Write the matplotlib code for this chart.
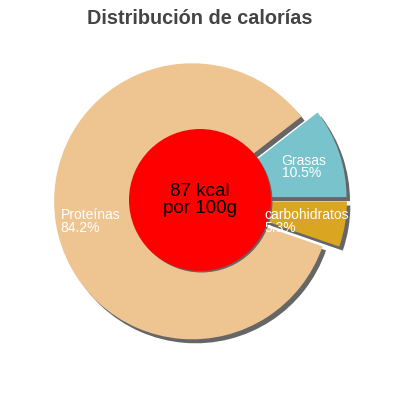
import matplotlib
matplotlib.use("Agg")
import matplotlib.pyplot as plt
from matplotlib.patches import Wedge, Circle

# slices, counter-clockwise from 3 o'clock
labels = ["Grasas", "Proteínas", "carbohidratos"]
values = [10.5, 84.2, 5.3]
colors = ["#79c4cc", "#eec591", "#daa520"]
explode = [0.065, 0.058, 0.065]

center_text = "87 kcal\npor 100g"
title = "Distribución de calorías"

# label anchors (left / vertical middle), in pie-radius units
label_pos = [(0.592, 0.239), (-1.009, -0.156), (0.464, -0.156)]

plt.rcParams['font.family'] = ['Liberation Sans', 'DejaVu Sans']

fig = plt.figure(figsize=(4, 4), dpi=100)
ax = fig.add_axes([0, 0, 1, 1])
r = 138.0  # pie radius in pixels

wedges, _ = ax.pie(values, colors=colors, explode=explode, startangle=0,
                   counterclock=True, radius=1.0, center=(0, 0))

# flat grey drop shadows, right/down
sx, sy = 3.5 / r, -4.0 / r
for w in wedges:
    w.set_zorder(2)
    cx, cy = w.center
    ax.add_patch(Wedge((cx + sx, cy + sy), w.r, w.theta1, w.theta2,
                       facecolor="#666666", edgecolor="none", zorder=1))

for (x, y), lab, v in zip(label_pos, labels, values):
    ax.text(x, y, f"{lab}\n{v}%", color="white", fontsize=10,
            ha="left", va="center", linespacing=0.85, zorder=5)

ax.add_patch(Circle((1.5 / r, -1.5 / r), 71 / r, facecolor="#666666",
                    edgecolor="none", zorder=3))
ax.add_patch(Circle((0, 0), 71 / r, facecolor="#ff0000", edgecolor="none",
                    zorder=4))
ax.text(0, 0, center_text, ha="center", va="center", fontsize=13.5,
        color="black", linespacing=1.05, zorder=6)

ax.set_aspect('auto')
ax.set_xlim(-200 / r, 200 / r)
ax.set_ylim(-200 / r, 200 / r)
ax.axis('off')

fig.text(0.5, 0.955, title, ha="center", va="center", fontsize=14.3,
         fontweight="bold", color="#444444")

fig.savefig("out.png", dpi=100)
